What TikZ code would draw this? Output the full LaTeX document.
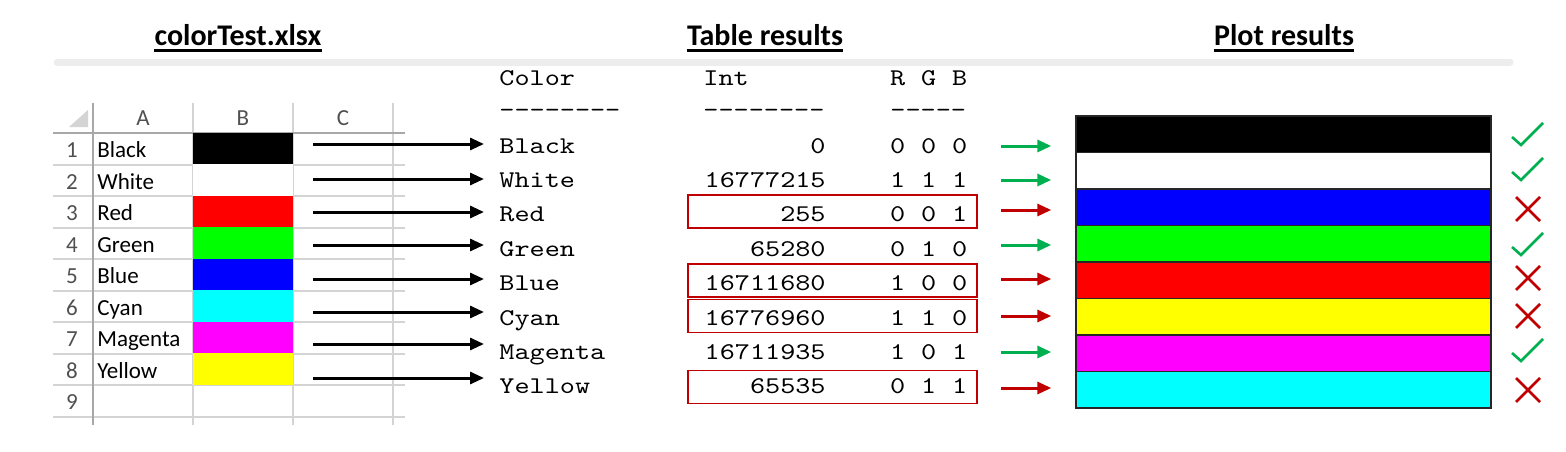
\documentclass[tikz,border=0pt]{standalone}
\usepackage{fontspec}
\setmainfont{Carlito}
\newfontfamily\tablefont{lmmono10-regular.otf}[FakeStretch=1.2]
\usetikzlibrary{arrows.meta}
\definecolor{gridc}{HTML}{D4D4D4}
\definecolor{gridd}{HTML}{A8A8A8}
\definecolor{hdrtxt}{HTML}{505050}
\definecolor{okgreen}{HTML}{00B050}
\definecolor{badred}{HTML}{C00000}
\definecolor{barc}{HTML}{EDEDED}
\definecolor{pblack}{HTML}{000000}
\definecolor{pwhite}{HTML}{FFFFFF}
\definecolor{pred}{HTML}{FF0000}
\definecolor{pgreen}{HTML}{00FF00}
\definecolor{pblue}{HTML}{0000FF}
\definecolor{pcyan}{HTML}{00FFFF}
\definecolor{pmagenta}{HTML}{FF00FF}
\definecolor{pyellow}{HTML}{FFFF00}
\tikzset{
  titletext/.style={font=\bfseries\fontsize{15}{17}\selectfont, anchor=base, inner sep=0pt},
  xltext/.style={font=\fontsize{11.5}{13}\selectfont, anchor=base west, inner sep=0pt},
  xlhdr/.style={font=\fontsize{11.5}{13}\selectfont, anchor=base, inner sep=0pt, text=hdrtxt},
  tttext/.style={font=\tablefont\fontsize{12}{14}\selectfont, anchor=base west, inner sep=0pt},
  ttright/.style={tttext, anchor=base east},
  ttmid/.style={tttext, anchor=base},
  blkarrow/.style={-{Triangle[length=7pt,width=6pt]}, line width=1.5pt},
  okarrow/.style={-{Triangle[length=7pt,width=6pt]}, line width=1.5pt, okgreen},
  badarrow/.style={-{Triangle[length=7pt,width=6pt]}, line width=1.5pt, badred},
  badbox/.style={draw=badred, line width=0.8pt, minimum width=144.5pt, minimum height=16.5pt, inner sep=0pt},
  stripe/.style={draw=black!85, line width=0.7pt, minimum width=207.5pt, minimum height=18.25pt, inner sep=0pt},
  cellfill/.style={minimum width=50pt, minimum height=15.75pt, inner sep=0pt},
  pics/checkmark/.style={code={\draw[okgreen, line width=1.3pt] (-16,3) -- (-7,11) -- (15,-11);}},
  pics/crossmark/.style={code={\draw[badred, line width=1.3pt] (-12,-12) -- (12,12) (-12,12) -- (12,-12);}}
}
\begin{document}
\begin{tikzpicture}[x=0.5pt,y=-0.5pt]
\useasboundingbox (0,0) rectangle (1566,451);

% titles
\node[titletext] (t1) at (238,45) {colorTest.xlsx};
\node[titletext] (t2) at (765,45) {Table results};
\node[titletext] (t3) at (1284,45) {Plot results};
\foreach \t in {t1,t2,t3}
  \draw[line width=1.3pt] ([yshift=-2.6pt]\t.base west) -- ([yshift=-2.6pt]\t.base east);

% separator bar
\draw[barc, line width=3.5pt, line cap=round] (57,62) -- (1510,62);

% spreadsheet grid
\fill[gridc] (88,110) -- (88,127) -- (69,127) -- cycle;
\foreach \yy in {164.5,196,227.5,259,290.5,322,353.5,385,416.5}
  \draw[gridc, line width=1pt] (53,\yy) -- (405,\yy);
\foreach \xx in {193,293,393}
  \draw[gridc, line width=1pt] (\xx,103) -- (\xx,425);
\draw[gridd, line width=0.9pt] (53,133) -- (405,133);
\draw[gridd, line width=0.9pt] (93,103) -- (93,425);

% column headers
\node[xlhdr] (hA) at (143,125) {A};
\node[xlhdr] (hB) at (243,125) {B};
\node[xlhdr] (hC) at (343,125) {C};

% cell fills
\foreach \c [count=\i] in {pblack,pwhite,pred,pgreen,pblue,pcyan,pmagenta,pyellow}
  \node[cellfill, fill=\c] (cb\i) at (243,{133+31.45*(\i-0.5)}) {};

% row numbers and names
\foreach \i in {1,...,9}
  \node[xlhdr] (rn\i) at (72,{133+31.45*\i-6.5}) {\i};
\foreach \nm [count=\i] in {Black,White,Red,Green,Blue,Cyan,Magenta,Yellow}
  \node[xltext] (ca\i) at (97,{133+31.45*\i-6.5}) {\nm};

% table header
\node[tttext] (hcol) at (499,85) {Color};
\node[tttext] (hint) at (703,85) {Int};
\node[ttmid] (hR) at (897.75,85) {R};
\node[ttmid] (hG) at (928.75,85) {G};
\node[ttmid] (hB2) at (959.75,85) {B};
\node[tttext] (d1) at (499,117) {--------};
\node[tttext] (d2) at (703,117) {--------};
\node[tttext] (d3) at (890,117) {-----};

% table rows
\foreach \nm/\iv/\r/\g/\b [count=\i] in {
  Black/0/0/0/0, White/16777215/1/1/1, Red/255/0/0/1, Green/65280/0/1/0,
  Blue/16711680/1/0/0, Cyan/16776960/1/1/0, Magenta/16711935/1/0/1, Yellow/65535/0/1/1}
{
  \node[tttext] (nm\i) at (499,{153+34.4*(\i-1)}) {\nm};
  \node[ttright] (iv\i) at (826,{153+34.4*(\i-1)}) {\iv};
  \node[ttmid] (vr\i) at (897.75,{153+34.4*(\i-1)}) {\r};
  \node[ttmid] (vg\i) at (928.75,{153+34.4*(\i-1)}) {\g};
  \node[ttmid] (vb\i) at (959.75,{153+34.4*(\i-1)}) {\b};
}

% red boxes
\node[badbox] (bx3) at (832.5,211.5) {};
\node[badbox] (bx5) at (832.5,280.5) {};
\node[badbox] (bx6) at (832.5,316) {};
\node[badbox] (bx8) at (832.5,387) {};

% black arrows
\foreach \yy [count=\i] in {144,179,212,245,279,312,344,378}
{
  \coordinate (sa\i) at (313,\yy);
  \draw[blkarrow] (sa\i) -- ([xshift=-7.5pt]nm\i.west |- sa\i);
}

% plot stripes
\foreach \c [count=\i] in {pblack,pwhite,pblue,pgreen,pred,pyellow,pmagenta,pcyan}
  \node[stripe, fill=\c] (st\i) at (1283.5,{116+36.5*(\i-0.5)}) {};

% coloured arrows
\foreach \yy/\kind [count=\i] in {146/okarrow,180/okarrow,210/badarrow,245/okarrow,279/badarrow,316/badarrow,352/okarrow,388/badarrow}
{
  \coordinate (ca\i s) at (1001,\yy);
  \draw[\kind] (ca\i s) -- ([xshift=-12pt]st\i.west |- ca\i s);
}

% marks
\pic at (1528,134) {checkmark};
\pic at (1528,169) {checkmark};
\pic at (1528,209) {crossmark};
\pic at (1528,244) {checkmark};
\pic at (1528,278) {crossmark};
\pic at (1528,316) {crossmark};
\pic at (1528,350) {checkmark};
\pic at (1528,390) {crossmark};
\end{tikzpicture}
\end{document}
